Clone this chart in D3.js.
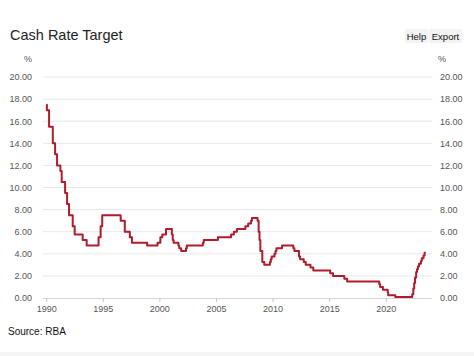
<!DOCTYPE html>
<html>
<head>
<meta charset="utf-8">
<script src="https://cdn.jsdelivr.net/npm/d3@7"></script>
<style>
  html, body { margin: 0; padding: 0; background: #ffffff; }
  svg { display: block; font-family: "Liberation Sans", Arial, Helvetica, sans-serif; }
</style>
</head>
<body>
<svg id="chart" width="474" height="356"></svg>
<script>
// Decision dates and cash rate target (%)
const dates = ["1990-01-01","1990-01-23","1990-04-04","1990-08-02","1990-10-15","1990-12-18","1991-04-04","1991-05-16","1991-09-03","1991-11-06","1992-01-08","1992-05-06","1992-07-08","1993-03-23","1993-07-30","1994-08-17","1994-10-24","1994-12-14","1996-07-31","1996-12-11","1997-05-23","1997-07-30","1998-12-02","1999-11-03","2000-02-02","2000-04-05","2000-08-02","2001-02-07","2001-03-07","2001-04-04","2001-09-05","2001-10-03","2001-12-05","2002-05-08","2002-06-05","2003-11-05","2003-12-03","2005-03-02","2006-05-03","2006-08-02","2006-11-08","2007-08-08","2007-11-07","2008-02-06","2008-03-05","2008-09-03","2008-10-08","2008-11-05","2008-12-03","2009-02-04","2009-04-08","2009-10-07","2009-11-04","2009-12-02","2010-03-03","2010-04-07","2010-05-05","2010-11-03","2011-11-02","2011-12-07","2012-05-02","2012-06-06","2012-10-03","2012-12-05","2013-05-08","2013-08-07","2015-02-04","2015-05-06","2016-05-04","2016-08-03","2019-06-05","2019-07-03","2019-10-02","2020-03-04","2020-03-20","2020-11-04","2022-05-04","2022-06-08","2022-07-06","2022-08-03","2022-09-07","2022-10-05","2022-11-02","2022-12-07","2023-02-08","2023-03-08","2023-05-03","2023-06-07","2023-07-15"];
const rates = [17.5,17.0,15.5,14.0,13.0,12.0,11.5,10.5,9.5,8.5,7.5,6.5,5.75,5.25,4.75,5.5,6.5,7.5,7.0,6.0,5.5,5.0,4.75,5.0,5.5,5.75,6.25,5.75,5.25,5.0,4.75,4.5,4.25,4.5,4.75,5.0,5.25,5.5,5.75,6.0,6.25,6.5,6.75,7.0,7.25,7.0,6.0,5.25,4.25,3.25,3.0,3.25,3.5,3.75,4.0,4.25,4.5,4.75,4.5,4.25,3.75,3.5,3.25,3.0,2.75,2.5,2.25,2.0,1.75,1.5,1.25,1.0,0.75,0.5,0.25,0.1,0.35,0.85,1.35,1.85,2.35,2.6,2.85,3.1,3.35,3.6,3.85,4.1,4.1];
const yTicks = [0,2,4,6,8,10,12,14,16,18,20];
const xTickYears = [1990,1995,2000,2005,2010,2015,2020];

const parse = d3.timeParse("%Y-%m-%d");
const data = dates.map((d, i) => ({ date: parse(d), value: rates[i] }));

const svg = d3.select("#chart");
const pLeft = 43, pRight = 432, pTop = 77, pBottom = 298;

const x = d3.scaleTime()
  .domain([parse("1989-09-20"), parse("2024-02-01")])
  .range([pLeft, pRight]);
const y = d3.scaleLinear().domain([0, 20]).range([pBottom, pTop]);

// faint bottom band
svg.append("rect").attr("x", 0).attr("y", 352).attr("width", 474).attr("height", 4).attr("fill", "#f5f5f5");

// Title
svg.append("text").attr("x", 10).attr("y", 40)
  .attr("font-size", 14.5).attr("fill", "#222").text("Cash Rate Target");

// Buttons
const btns = [{t:"Help", x:405, w:23}, {t:"Export", x:429, w:33}];
btns.forEach(b => {
  svg.append("rect").attr("x", b.x).attr("y", 29).attr("width", b.w).attr("height", 14)
    .attr("rx", 2).attr("fill", "#f3f3f3");
  svg.append("text").attr("x", b.x + b.w / 2).attr("y", 40).attr("text-anchor", "middle")
    .attr("font-size", 9.5).attr("fill", "#111").text(b.t);
});

// Units
svg.append("text").attr("x", 28).attr("y", 62).attr("text-anchor", "middle")
  .attr("font-size", 9).attr("fill", "#555").text("%");
svg.append("text").attr("x", 442).attr("y", 62).attr("text-anchor", "middle")
  .attr("font-size", 9).attr("fill", "#555").text("%");

// Gridlines
svg.append("g").selectAll("line").data(yTicks.filter(t => t > 0)).join("line")
  .attr("x1", pLeft).attr("x2", pRight)
  .attr("y1", d => y(d)).attr("y2", d => y(d))
  .attr("stroke", "#e8e8e8").attr("stroke-width", 1);

// Left axis labels
const leftAxis = d3.axisLeft(y).tickValues(yTicks).tickSize(0).tickPadding(0).tickFormat(d3.format(".2f"));
const gl = svg.append("g").attr("transform", `translate(32,0)`).call(leftAxis);
gl.select(".domain").remove();
gl.selectAll("text").attr("font-size", 9).attr("fill", "#555").attr("font-family", "Liberation Sans, Arial, sans-serif");

// Right axis labels
const rightAxis = d3.axisRight(y).tickValues(yTicks).tickSize(0).tickPadding(0).tickFormat(d3.format(".2f"));
const gr = svg.append("g").attr("transform", `translate(440,0)`).call(rightAxis);
gr.select(".domain").remove();
gr.selectAll("text").attr("font-size", 9).attr("fill", "#555").attr("font-family", "Liberation Sans, Arial, sans-serif");

// X axis
const xAxis = d3.axisBottom(x)
  .tickValues(xTickYears.map(yv => new Date(yv, 0, 1)))
  .tickSize(4).tickPadding(4).tickFormat(d3.timeFormat("%Y"));
const gx = svg.append("g").attr("transform", `translate(0,${pBottom})`).call(xAxis);
gx.select(".domain").attr("stroke", "#d6d6d6").attr("d", `M${pLeft},0.5H${pRight}`);
gx.selectAll(".tick line").attr("stroke", "#bcc8d6");
gx.selectAll("text").attr("font-size", 9).attr("fill", "#555").attr("font-family", "Liberation Sans, Arial, sans-serif");

// Line
const line = d3.line().x(d => x(d.date)).y(d => y(d.value)).curve(d3.curveStepAfter);
svg.append("path").datum(data).attr("d", line)
  .attr("fill", "none").attr("stroke", "#b01c2b").attr("stroke-width", 2)
  .attr("stroke-linejoin", "round");

// Source
svg.append("text").attr("x", 8).attr("y", 335)
  .attr("font-size", 10).attr("fill", "#111").text("Source: RBA");
</script>
</body>
</html>
